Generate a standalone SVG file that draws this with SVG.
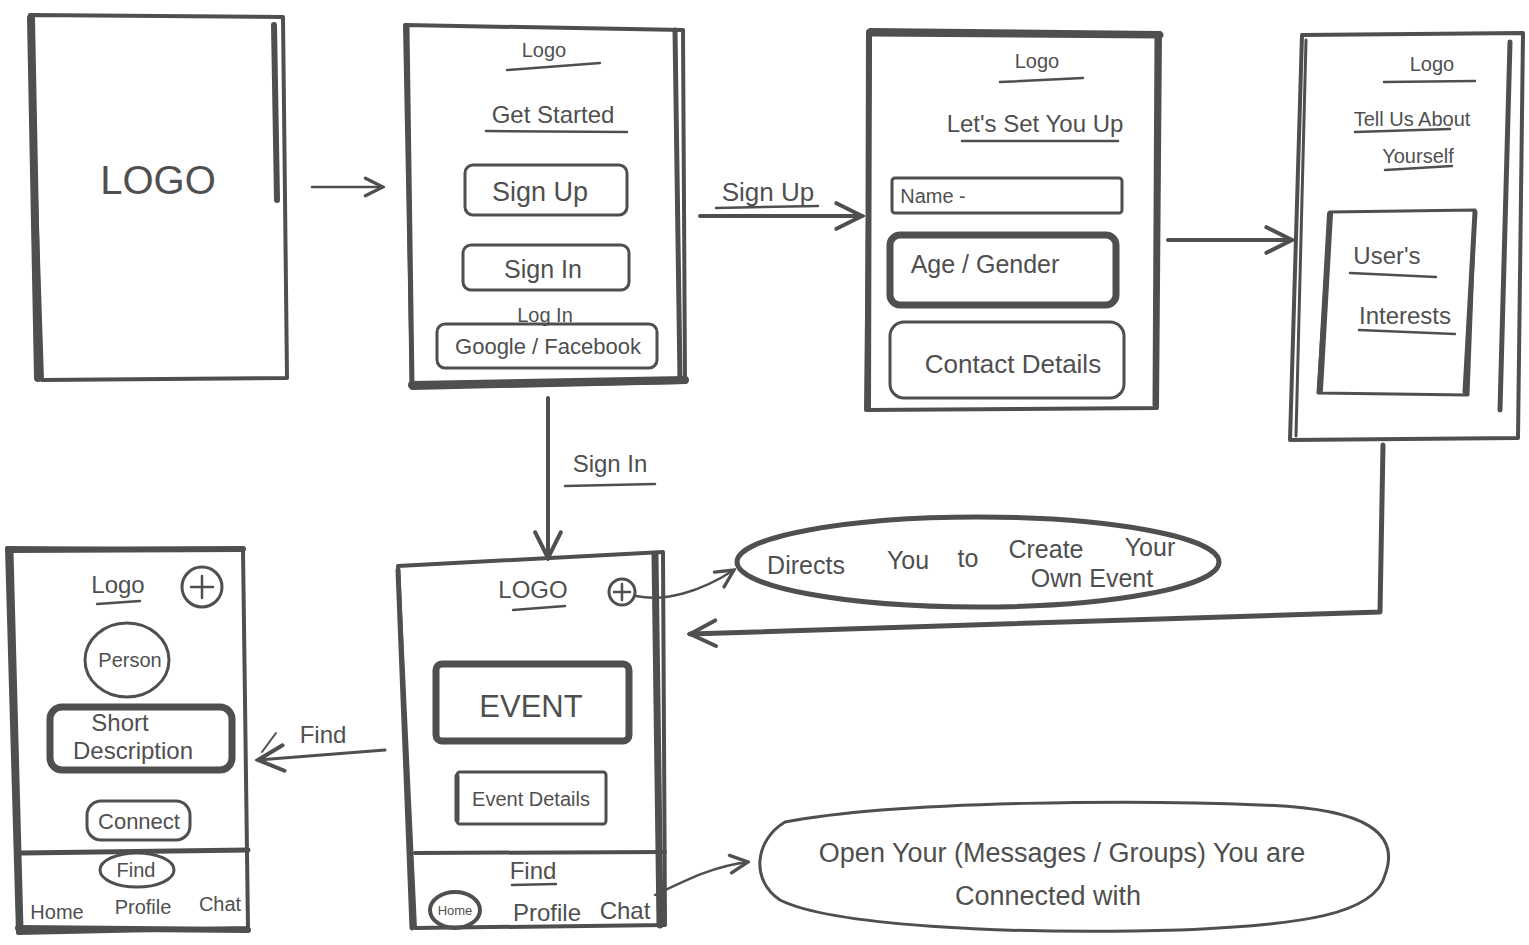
<svg xmlns="http://www.w3.org/2000/svg" width="1529" height="945" viewBox="0 0 1529 945">
<style>
  .ln{fill:none;stroke:#4f4f4f;stroke-linecap:round;stroke-linejoin:round}
  .f{fill:none;stroke:#4f4f4f;stroke-width:4;stroke-linejoin:round}
  .b{fill:none;stroke:#4f4f4f;stroke-width:3;stroke-linejoin:round}
  .bt{fill:none;stroke:#4f4f4f;stroke-width:7;stroke-linejoin:round}
  .u{fill:none;stroke:#4f4f4f;stroke-width:2.5;stroke-linecap:round}
  text{font-family:"Liberation Sans","DejaVu Sans",sans-serif;fill:#4f4f4f;text-anchor:middle}
  .t{font-size:24px}
  .s{font-size:20px}
  .e{font-size:25px}
  .c{font-size:27px}
</style>
<defs>
  <marker id="ah" viewBox="0 0 20 20" refX="18" refY="10" markerWidth="22" markerHeight="22" markerUnits="userSpaceOnUse" orient="auto">
    <path d="M2,2 L18,10 L2,18" fill="none" stroke="#4f4f4f" stroke-width="3" stroke-linecap="round"/>
  </marker>
  <marker id="ahb" viewBox="0 0 20 20" refX="18" refY="10" markerWidth="32" markerHeight="32" markerUnits="userSpaceOnUse" orient="auto">
    <path d="M2,2 L18,10 L2,18" fill="none" stroke="#4f4f4f" stroke-width="2.5" stroke-linecap="round"/>
  </marker>
</defs>
<rect width="1529" height="945" fill="#ffffff"/>

<g id="connectors">
  <path class="ln" stroke-width="2.5" d="M312,187 L383,187" marker-end="url(#ah)"/>
  <path class="ln" stroke-width="4" d="M700,216 L862,216" marker-end="url(#ahb)"/>
  <text x="768" y="201" font-size="26">Sign Up</text>
  <path class="u" d="M716,208 L818,206"/>
  <path class="ln" stroke-width="4" d="M1168,240 L1292,240" marker-end="url(#ahb)"/>
  <path class="ln" stroke-width="5" d="M1383,445 L1380,612 L690,634" marker-end="url(#ahb)"/>
  <path class="ln" stroke-width="4" d="M548,398 L548,558" marker-end="url(#ahb)"/>
  <text class="t" x="610" y="472">Sign In</text>
  <path class="u" d="M565,486 L655,484"/>
  <path class="ln" stroke-width="2.5" d="M636,596 C665,602 700,592 734,570" marker-end="url(#ah)"/>
  <path class="ln" stroke-width="2.5" d="M655,895 C690,878 715,866 748,862" marker-end="url(#ah)"/>
  <path class="ln" stroke-width="3" d="M385,750 L258,760" marker-end="url(#ahb)"/>
  <path class="ln" stroke-width="2" d="M262,752 L276,733"/>
  <text class="t" x="323" y="743">Find</text>
</g>

<g id="node-splash">
  <path class="f" d="M30,15 L283,17 L287,378 L42,380 Z"/>
  <path class="ln" stroke-width="8" d="M31,18 L38,378"/>
  <path class="ln" stroke-width="6" d="M274,25 L277,200"/>
  <text x="158" y="194" font-size="40">LOGO</text>
</g>

<g id="node-getstarted">
  <path class="f" d="M405,25 L683,30 L685,382 L412,388 Z"/>
  <path class="ln" stroke-width="8" d="M412,385 L685,380"/>
  <path class="ln" stroke-width="5" d="M407,28 L412,385"/>
  <path class="ln" stroke-width="5" d="M675,30 L680,380"/>
  <text class="s" x="544" y="57">Logo</text>
  <path class="u" d="M507,70 L600,63"/>
  <text class="t" x="553" y="123">Get Started</text>
  <path class="u" d="M486,131 L627,132"/>
  <rect class="b" x="465" y="165" width="162" height="50" rx="8"/>
  <text x="540" y="201" font-size="27">Sign Up</text>
  <rect class="b" x="463" y="245" width="166" height="45" rx="8"/>
  <text x="543" y="278" font-size="25">Sign In</text>
  <text class="s" x="545" y="322">Log In</text>
  <rect class="b" x="437" y="324" width="220" height="44" rx="8"/>
  <text x="548" y="354" font-size="22">Google / Facebook</text>
</g>

<g id="node-setup">
  <path class="f" d="M870,30 L1160,33 L1157,408 L866,410 Z"/>
  <path class="ln" stroke-width="7" d="M870,33 L1160,35"/>
  <path class="ln" stroke-width="6" d="M869,32 L868,408"/>
  <path class="ln" stroke-width="5" d="M1157,35 L1155,405"/>
  <text class="s" x="1037" y="68">Logo</text>
  <path class="u" d="M1000,82 L1083,78"/>
  <text class="t" x="1035" y="132">Let's Set You Up</text>
  <path class="u" d="M962,141 L1118,141"/>
  <rect class="b" x="892" y="178" width="230" height="35" rx="3"/>
  <text class="s" x="933" y="203">Name -</text>
  <rect class="bt" x="890" y="235" width="226" height="70" rx="10"/>
  <text x="985" y="273" font-size="25">Age / Gender</text>
  <rect class="b" x="890" y="322" width="234" height="76" rx="14"/>
  <text x="1013" y="373" font-size="26">Contact Details</text>
</g>

<g id="node-aboutyou">
  <path class="f" d="M1302,35 L1523,33 L1518,438 L1290,440 Z"/>
  <path class="ln" stroke-width="3" d="M1306,40 L1296,436"/>
  <path class="ln" stroke-width="5" d="M1510,42 L1500,410"/>
  <text class="s" x="1432" y="71">Logo</text>
  <path class="u" d="M1384,82 L1475,81"/>
  <text class="s" x="1412" y="126">Tell Us About</text>
  <path class="u" d="M1355,132 L1450,129"/>
  <text class="s" x="1418" y="163">Yourself</text>
  <path class="u" d="M1385,170 L1452,166"/>
  <path class="b" d="M1330,212 L1475,210 L1468,395 L1318,393 Z"/>
  <path class="ln" stroke-width="6" d="M1330,214 L1320,390"/>
  <path class="ln" stroke-width="5" d="M1475,212 L1465,392"/>
  <text class="t" x="1387" y="264">User's</text>
  <path class="u" d="M1350,273 L1436,277"/>
  <text class="t" x="1405" y="324">Interests</text>
  <path class="u" d="M1359,330 L1455,334"/>
</g>

<g id="node-home">
  <path class="f" d="M398,566 L663,552 L665,925 L415,928 Z"/>
  <path class="ln" stroke-width="7" d="M655,555 L660,925"/>
  <path class="ln" stroke-width="5" d="M398,570 L412,928"/>
  <text class="t" x="533" y="598">LOGO</text>
  <path class="u" d="M513,610 L565,606"/>
  <circle class="b" cx="622" cy="592" r="13"/>
  <path class="u" d="M622,584 L622,600 M614,592 L630,592"/>
  <rect class="bt" x="436" y="664" width="193" height="77" rx="6"/>
  <text x="531" y="717" font-size="31">EVENT</text>
  <rect class="b" x="457" y="772" width="149" height="52" rx="3"/>
  <path class="ln" stroke-width="5" d="M457,776 L457,820"/>
  <text class="s" x="531" y="806">Event Details</text>
  <path class="ln" stroke-width="4" d="M415,853 L665,852"/>
  <text class="t" x="533" y="879">Find</text>
  <path class="u" d="M512,885 L556,884"/>
  <ellipse class="ln" stroke-width="4" cx="455" cy="910" rx="25" ry="18"/>
  <text x="455" y="915" font-size="13">Home</text>
  <text class="t" x="547" y="921">Profile</text>
  <text class="t" x="625" y="919">Chat</text>
</g>

<g id="node-directs">
  <ellipse class="ln" stroke-width="5" cx="978" cy="562" rx="241" ry="45"/>
  <text class="e" x="806" y="574">Directs</text>
  <text class="e" x="908" y="569">You</text>
  <text class="e" x="968" y="567">to</text>
  <text class="e" x="1046" y="558">Create</text>
  <text class="e" x="1150" y="556">Your</text>
  <text class="e" x="1092" y="587">Own Event</text>
</g>

<g id="node-chat">
  <path class="ln" stroke-width="3" d="M785,822 C900,800 1150,800 1260,805 C1370,808 1400,835 1385,875 C1375,915 1300,925 1180,930 C1000,935 830,925 780,900 C750,880 755,840 785,822 Z"/>
  <text class="c" x="1062" y="862">Open Your (Messages / Groups) You are</text>
  <text class="c" x="1048" y="905">Connected     with</text>
</g>

<g id="node-profile">
  <path class="f" d="M7,548 L243,550 L248,928 L18,933 Z"/>
  <path class="ln" stroke-width="7" d="M10,552 L20,930"/>
  <path class="ln" stroke-width="6" d="M8,550 L243,549"/>
  <path class="ln" stroke-width="6" d="M18,928 L248,930"/>
  <text class="t" x="118" y="593">Logo</text>
  <path class="u" d="M97,604 L140,601"/>
  <circle class="b" cx="202" cy="587" r="20"/>
  <path class="u" d="M202,576 L202,598 M191,587 L213,587"/>
  <ellipse class="b" cx="127" cy="660" rx="42" ry="37"/>
  <text class="s" x="130" y="667">Person</text>
  <rect class="bt" x="50" y="707" width="182" height="63" rx="12"/>
  <text class="t" x="120" y="731">Short</text>
  <text class="t" x="133" y="759">Description</text>
  <rect class="b" x="87" y="801" width="103" height="39" rx="14"/>
  <text x="139" y="829" font-size="22">Connect</text>
  <path class="ln" stroke-width="5" d="M22,853 L248,850"/>
  <ellipse class="b" cx="137" cy="870" rx="37" ry="17"/>
  <text class="s" x="136" y="877">Find</text>
  <text class="s" x="57" y="919">Home</text>
  <text class="s" x="143" y="914">Profile</text>
  <text class="s" x="220" y="911">Chat</text>
</g>
</svg>
